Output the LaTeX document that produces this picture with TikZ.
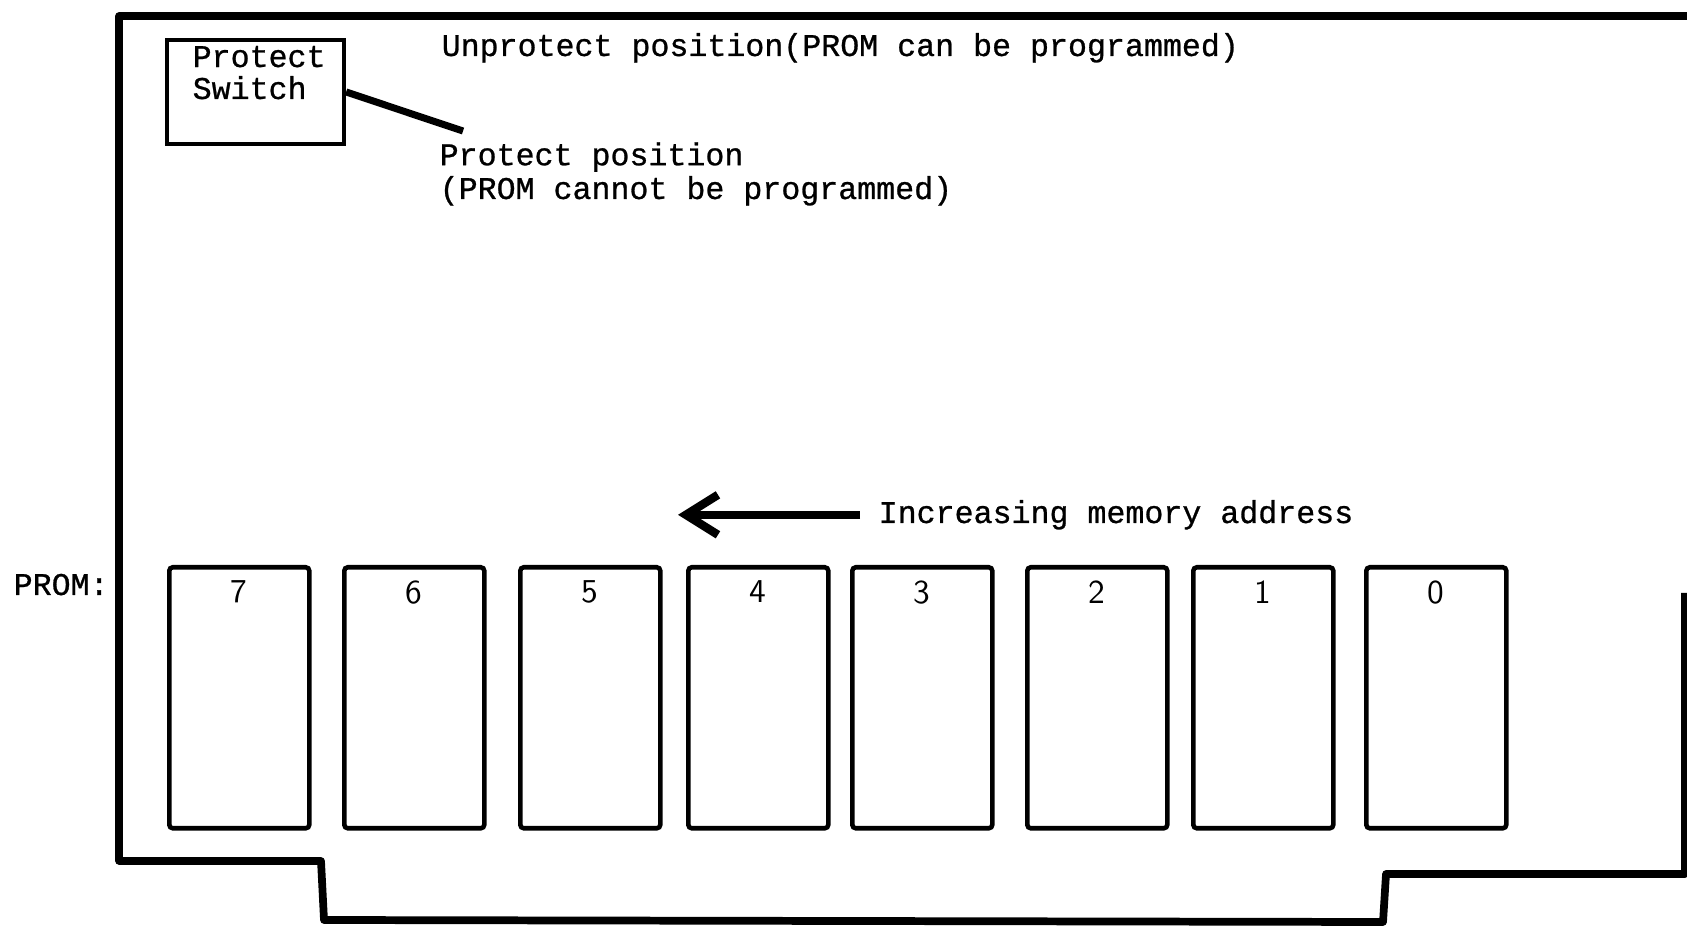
\documentclass[tikz,border=0pt]{standalone}
\usepackage{fontspec}
\setmonofont{Liberation Mono}[FakeBold=0.8]
\usetikzlibrary{arrows.meta}

\begin{document}
\begin{tikzpicture}[
  board/.style={line width=2.2pt, line join=round},
  chip/.style={draw, line width=1.3pt, rounded corners=1pt, minimum width=1.40cm, minimum height=2.61cm, inner sep=0pt, anchor=north west},
  txt/.style={font=\ttfamily\fontsize{9}{9.6}\selectfont, inner sep=0pt, anchor=base west, align=left},
  digit/.style={font=\sffamily\fontsize{9.5}{9.5}\selectfont, inner sep=0pt, anchor=north}
]
\useasboundingbox (0,0) rectangle (16.87,9.33);
% board outline
\draw[board] (16.87,9.17) -- (1.19,9.17) -- (1.19,0.72) -- (3.21,0.72) -- (3.24,0.13) -- (13.83,0.11) -- (13.86,0.59) -- (16.85,0.59) -- (16.85,3.40);
% protect switch
\node[draw, line width=1.2pt, minimum width=1.77cm, minimum height=1.04cm, inner sep=0pt] (switch) at (2.555,8.41) {};
\node[txt, font=\ttfamily\fontsize{9}{9.1}\selectfont] (switchtxt) at (1.92,8.34) {Protect\\Switch};
\coordinate (lever) at (4.63,8.02);
\draw[line width=2pt] (switch.east) -- (lever);
\node[txt] (unprot) at (4.41,8.77) {Unprotect position(PROM can be programmed)};
\node[txt] (prot) at (4.39,7.34) {Protect position\\(PROM cannot be programmed)};
% address direction
\node[txt] (incr) at (8.78,4.10) {Increasing memory address};
\coordinate (tip) at (6.78,4.22);
\draw[line width=2.4pt, -{Straight Barb[length=0.32cm, width=0.40cm]}] ([xshift=-0.18cm]incr.west) -- (incr.west -| tip);
% proms
\node[txt] (promlbl) at (0.13,3.38) {PROM:};
\foreach \n/\x in {7/1.67, 6/3.42, 5/5.18, 4/6.86, 3/8.50, 2/10.25, 1/11.91, 0/13.64}{
  \node[chip] (prom\n) at (\x,3.68) {};
  \node[digit] at ([yshift=-0.15cm]prom\n.north) {\n};
}
\end{tikzpicture}
\end{document}
